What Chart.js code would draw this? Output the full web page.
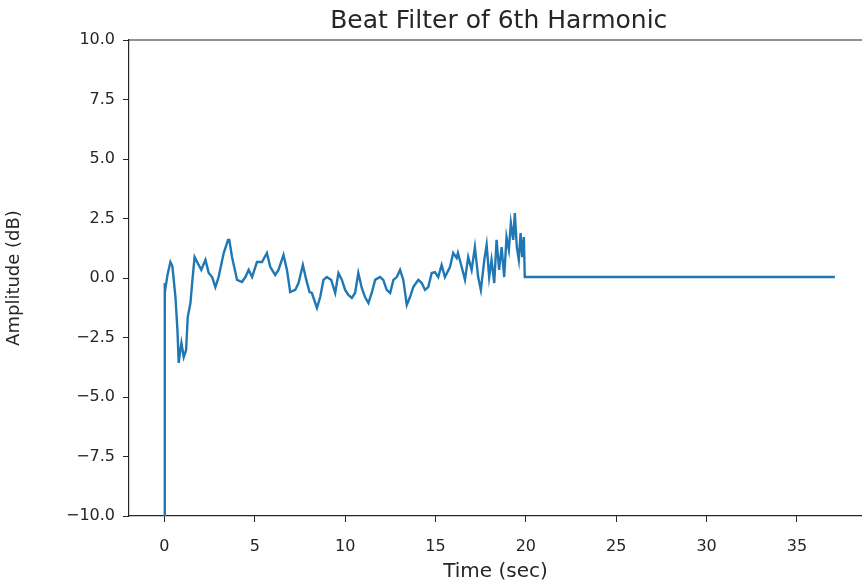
<!DOCTYPE html>
<html>
<head>
<meta charset="utf-8">
<script src="https://cdn.jsdelivr.net/npm/chart.js@4.4.0/dist/chart.umd.min.js"></script>
<style>
  html, body { margin: 0; padding: 0; background: #fff; }
  #wrap { width: 862px; height: 588px; }
</style>
</head>
<body>
<div id="wrap"><canvas id="beat_chart"></canvas></div>
<script>
const timeSec = [
  0, 0.02, 0.06, 0.17, 0.33, 0.44, 0.61, 0.72, 0.79, 0.88, 0.94, 1.07, 1.2, 1.29, 1.44, 1.55,
  1.67, 1.81, 2.04, 2.27, 2.45, 2.64, 2.82, 3.0, 3.28, 3.52, 3.59, 3.74, 4.02, 4.29, 4.48, 4.66,
  4.85, 5.12, 5.4, 5.67, 5.86, 6.13, 6.31, 6.59, 6.78, 6.96, 7.24, 7.42, 7.66, 7.85, 8.03, 8.16,
  8.44, 8.62, 8.8, 8.99, 9.23, 9.45, 9.63, 9.82, 10.0, 10.18, 10.37, 10.55, 10.73, 10.92, 11.1,
  11.29, 11.47, 11.66, 11.93, 12.11, 12.3, 12.49, 12.67, 12.86, 13.04, 13.22, 13.41, 13.59, 13.77,
  14.05, 14.24, 14.42, 14.6, 14.79, 14.97, 15.15, 15.34, 15.52, 15.8, 15.98, 16.17, 16.24, 16.45,
  16.63, 16.81, 17.0, 17.18, 17.36, 17.51, 17.7, 17.83, 17.97, 18.1, 18.25, 18.38, 18.52, 18.66,
  18.8, 18.93, 19.06, 19.17, 19.3, 19.39, 19.5, 19.61, 19.71, 19.8, 19.89, 19.94, 37.1
];
const amplitudeDb = [
  -10, -0.21, -0.42, 0.13, 0.67, 0.5, -0.8, -2.18, -3.57, -3.03, -2.73, -3.32, -3.03, -1.64, -1.05, -0.08,
  0.88, 0.67, 0.34, 0.76, 0.21, 0.04, -0.38, 0.04, 1.05, 1.6, 1.6, 0.88, -0.08, -0.17, 0.04, 0.34,
  0.04, 0.67, 0.67, 1.05, 0.46, 0.13, 0.34, 0.97, 0.34, -0.59, -0.5, -0.21, 0.55, -0.08, -0.59, -0.63,
  -1.26, -0.8, -0.08, 0.04, -0.08, -0.63, 0.21, -0.08, -0.5, -0.71, -0.84, -0.63, 0.21, -0.42, -0.8,
  -1.05, -0.63, -0.08, 0.04, -0.08, -0.5, -0.63, -0.08, 0.04, 0.34, -0.08, -1.13, -0.8, -0.38,
  -0.08, -0.21, -0.5, -0.38, 0.21, 0.25, 0.04, 0.55, 0.04, 0.46, 1.05, 0.84, 1.05, 0.46,
  -0.08, 0.88, 0.34, 1.3, 0.04, -0.5, 0.76, 1.39, 0.04, 0.76, -0.21, 1.6, 0.34, 1.3,
  0.04, 1.72, 1.18, 2.31, 1.6, 2.73, 1.3, 0.76, 1.89, 0.88, 1.72, 0.04, 0.04
];
const xTicks = [0, 5, 10, 15, 20, 25, 30, 35];
const yTicks = [-10, -7.5, -5, -2.5, 0, 2.5, 5, 7.5, 10];

const ink = "#262626";
const font = "'DejaVu Sans', sans-serif";

function fmtY(v) {
  const s = v.toFixed(1);
  return v < 0 ? "\u2212" + s.slice(1) : s;
}

// top spine (right one falls off the canvas) and the title centred over the axes
const framePlugin = {
  id: "frame",
  afterDraw(chart) {
    const { ctx, chartArea: a, scales } = chart;
    ctx.save();
    ctx.strokeStyle = ink;
    ctx.lineWidth = 1.2;
    ctx.beginPath();
    ctx.moveTo(a.left, a.top);
    ctx.lineTo(chart.width, a.top);
    ctx.stroke();
    ctx.fillStyle = ink;
    ctx.font = "25px " + font;
    ctx.textAlign = "center";
    ctx.textBaseline = "alphabetic";
    ctx.fillText("Beat Filter of 6th Harmonic", scales.x.getPixelForValue(18.5), 28);
    ctx.restore();
  },
};

new Chart(document.getElementById("beat_chart").getContext("2d"), {
  type: "line",
  data: {
    datasets: [
      {
        data: timeSec.map((t, i) => ({ x: t, y: amplitudeDb[i] })),
        borderColor: "#1f77b4",
        borderWidth: 2.4,
        pointRadius: 0,
        tension: 0,
        fill: false,
      },
    ],
  },
  options: {
    responsive: true,
    maintainAspectRatio: false,
    animation: false,
    layout: { padding: { top: 40, left: 0, right: 0, bottom: 0 } },
    plugins: {
      legend: { display: false },
      tooltip: { enabled: false },
    },
    scales: {
      x: {
        type: "linear",
        min: -1.96,
        max: 38.6,
        afterBuildTicks: (s) => { s.ticks = xTicks.map((v) => ({ value: v })); },
        afterFit: (s) => { s.height = 72; },
        grid: { drawOnChartArea: false, drawTicks: true, tickLength: 6, color: ink, tickColor: ink },
        border: { color: ink, width: 1.2 },
        ticks: { color: ink, font: { family: font, size: 16 }, padding: 15, maxRotation: 0 },
        title: { display: true, text: "Time (sec)", color: ink, font: { family: font, size: 20 }, padding: { top: 0 } },
      },
      y: {
        min: -10,
        max: 10,
        afterBuildTicks: (s) => { s.ticks = yTicks.map((v) => ({ value: v })); },
        afterFit: (s) => { s.width = 129; },
        grid: { drawOnChartArea: false, drawTicks: true, tickLength: 6, color: ink, tickColor: ink },
        border: { color: ink, width: 1.2 },
        ticks: { color: ink, font: { family: font, size: 16 }, padding: 8, callback: (v) => fmtY(v) },
        title: { display: true, text: "Amplitude (dB)", color: ink, font: { family: font, size: 18 }, padding: { bottom: 4 } },
      },
    },
  },
  plugins: [framePlugin],
});
</script>
</body>
</html>
